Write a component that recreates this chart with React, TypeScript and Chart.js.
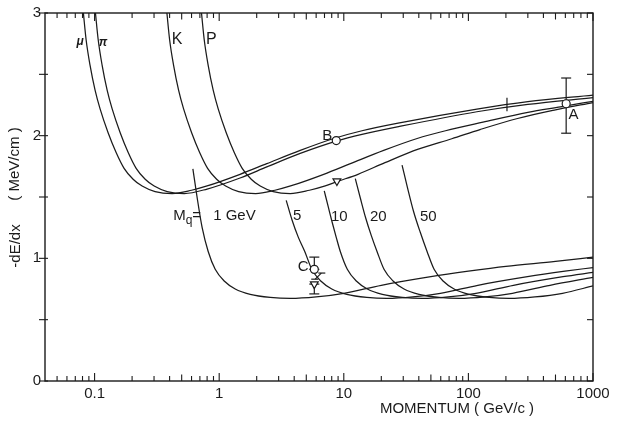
import React, { useEffect, useRef } from "react";
import { Chart, registerables } from "chart.js";

Chart.register(...registerables);

// ---- curves: momentum (GeV/c) vs -dE/dx (MeV/cm) ----
const muonMomentum = [0.0813, 0.0855, 0.092, 0.1009, 0.1107, 0.1284, 0.1489, 0.1725, 0.2038, 0.2407, 0.306, 0.419, 0.6, 0.8, 1.47, 2.41, 4.47, 8.3, 14, 28, 117, 300, 1000];
const muonDedx = [3.0, 2.782, 2.573, 2.371, 2.218, 2.024, 1.863, 1.734, 1.645, 1.589, 1.544, 1.528, 1.555, 1.59, 1.685, 1.772, 1.88, 1.977, 2.04, 2.104, 2.216, 2.277, 2.33];

const pionMomentum = [0.1016, 0.1069, 0.115, 0.1261, 0.1384, 0.1605, 0.1861, 0.2156, 0.2548, 0.3009, 0.3825, 0.524, 0.8, 1.47, 2.41, 4.47, 8.7, 14, 28, 117, 300, 1000];
const pionDedx = [3.0, 2.782, 2.573, 2.371, 2.218, 2.024, 1.863, 1.734, 1.645, 1.589, 1.544, 1.528, 1.565, 1.655, 1.745, 1.855, 1.955, 2.01, 2.075, 2.195, 2.255, 2.31];

const kaonMomentum = [0.3805, 0.4001, 0.4306, 0.4722, 0.5181, 0.6009, 0.6969, 0.8073, 0.9538, 1.1265, 1.432, 1.961, 2.8, 3.74, 6.9, 11.3, 20.9, 38.8, 65.5, 131, 300, 548, 1000];
const kaonDedx = [3.0, 2.782, 2.573, 2.371, 2.218, 2.024, 1.863, 1.734, 1.645, 1.589, 1.544, 1.528, 1.555, 1.59, 1.685, 1.772, 1.88, 1.977, 2.04, 2.11, 2.19, 2.235, 2.28];

const protonMomentum = [0.7211, 0.7584, 0.816, 0.895, 0.9819, 1.139, 1.321, 1.53, 1.808, 2.135, 2.714, 3.717, 5.3, 7.1, 8.8, 13, 21.4, 39.6, 73.6, 124, 248, 500, 1000];
const protonDedx = [3.0, 2.782, 2.573, 2.371, 2.218, 2.024, 1.863, 1.734, 1.645, 1.589, 1.544, 1.528, 1.555, 1.59, 1.625, 1.685, 1.78, 1.89, 1.975, 2.05, 2.14, 2.21, 2.27];

const quark1Momentum = [0.615, 0.666, 0.73, 0.816, 0.929, 1.097, 1.345, 1.774, 2.568, 3.72, 6, 10, 20, 50, 100, 200, 500, 1000];
const quark1Dedx = [1.73, 1.492, 1.25, 1.056, 0.911, 0.815, 0.75, 0.706, 0.681, 0.673, 0.685, 0.715, 0.78, 0.85, 0.895, 0.935, 0.975, 1.01];

const quark5Momentum = [3.45, 3.837, 4.311, 4.861, 5.533, 6.537, 8.012, 10.57, 15.3, 22.15, 35.8, 59.6, 119, 298, 596, 1000];
const quark5Dedx = [1.473, 1.315, 1.173, 1.056, 0.911, 0.815, 0.75, 0.706, 0.681, 0.673, 0.685, 0.715, 0.78, 0.85, 0.895, 0.925];

const quark10Momentum = [6.97, 7.508, 8.086, 8.707, 9.374, 10.67, 12.6, 15.45, 20.38, 29.51, 42.72, 69, 115, 230, 575, 1000];
const quark10Dedx = [1.55, 1.419, 1.29, 1.169, 1.056, 0.911, 0.815, 0.75, 0.706, 0.681, 0.673, 0.685, 0.715, 0.78, 0.85, 0.885];

const quark20Momentum = [12.37, 13.57, 14.97, 16.63, 18.48, 21.03, 24.85, 30.44, 40.18, 58.17, 84.21, 135.6, 226, 452, 1000];
const quark20Dedx = [1.65, 1.492, 1.331, 1.185, 1.056, 0.911, 0.815, 0.75, 0.706, 0.681, 0.673, 0.685, 0.715, 0.78, 0.845];

const quark50Momentum = [29.35, 32.36, 36.36, 41.16, 46.6, 53.04, 62.64, 76.78, 101.3, 146.7, 212.3, 342, 570, 1000];
const quark50Dedx = [1.76, 1.581, 1.38, 1.21, 1.056, 0.911, 0.815, 0.75, 0.706, 0.681, 0.673, 0.685, 0.715, 0.775];

// ---- measured points ----
const circleMomentum = [609, 8.7, 5.8]; // A, B, C
const circleDedx = [2.26, 1.96, 0.91];
const triangleMomentum = [8.8, 5.8];
const triangleDedx = [1.63, 0.79];

const errorBarMomentum = [609, 5.8, 5.8];
const errorBarLow = [2.02, 0.91, 0.71];
const errorBarHigh = [2.47, 1.01, 0.79];

const plainBarMomentum = [204];
const plainBarLow = [2.2];
const plainBarHigh = [2.31];

const slantBarStart = [5.9, 0.83];
const slantBarEnd = [6.6, 0.88];

// ---- ticks ----
const xTickLabels = [0.1, 1, 10, 100, 1000];
const xMidTicks = [0.5, 5, 50, 500];
const xMinorTicks = [0.05, 0.06, 0.07, 0.08, 0.09, 0.2, 0.3, 0.4, 0.6, 0.7, 0.8, 0.9, 2, 3, 4, 6, 7, 8, 9, 20, 30, 40, 60, 70, 80, 90, 200, 300, 400, 600, 700, 800, 900];
const yTickLabels = [0, 1, 2, 3];
const yMinorTicks = [0.5, 1.5, 2.5];

// ---- text labels (momentum, dE/dx) ----
const curveLabels = ["μ", "π", "K", "P"];
const curveLabelMomentum = [0.0764, 0.117, 0.46, 0.863];
const curveLabelDedx = [2.766, 2.758, 2.782, 2.782];

const massLabels = ["5", "10", "20", "50"];
const massLabelMomentum = [4.23, 9.2, 18.9, 47.7];
const massLabelDedx = [1.35, 1.34, 1.34, 1.34];

const pointLabels = ["A", "B", "C"];
const pointLabelMomentum = [697, 7.37, 4.73];
const pointLabelDedx = [2.17, 2.0, 0.927];

const INK = "#1b1b1b";
const FONT = "'Liberation Sans', Arial, sans-serif";

const toXY = (ps: number[], ys: number[]) => ps.map((p, i) => ({ x: p, y: ys[i] }));

export default function App() {
  const ref = useRef<HTMLCanvasElement>(null);

  useEffect(() => {
    const canvas = ref.current;
    if (!canvas) return;

    const curve = (label: string, ps: number[], ys: number[]) => ({
      label,
      data: toXY(ps, ys),
      showLine: true,
      borderColor: INK,
      borderWidth: 1.25,
      pointRadius: 0,
      pointHoverRadius: 0,
      cubicInterpolationMode: "monotone" as const,
      fill: false,
    });

    const drawPlugin = {
      id: "decor",
      beforeDatasetsDraw(chart: any) {
        const { ctx, scales } = chart;
        const x = scales.x;
        const y = scales.y;
        ctx.save();
        ctx.strokeStyle = INK;
        ctx.lineWidth = 1.2;
        const seg = (x1: number, y1: number, x2: number, y2: number) => {
          ctx.beginPath();
          ctx.moveTo(x1, y1);
          ctx.lineTo(x2, y2);
          ctx.stroke();
        };
        errorBarMomentum.forEach((p, i) => {
          const px = x.getPixelForValue(p);
          const lo = y.getPixelForValue(errorBarLow[i]);
          const hi = y.getPixelForValue(errorBarHigh[i]);
          seg(px, lo, px, hi);
          seg(px - 5, lo, px + 5, lo);
          seg(px - 5, hi, px + 5, hi);
        });
        plainBarMomentum.forEach((p, i) => {
          const px = x.getPixelForValue(p);
          seg(px, y.getPixelForValue(plainBarLow[i]), px, y.getPixelForValue(plainBarHigh[i]));
        });
        const sx = x.getPixelForValue(slantBarStart[0]);
        const sy = y.getPixelForValue(slantBarStart[1]);
        const ex = x.getPixelForValue(slantBarEnd[0]);
        const ey = y.getPixelForValue(slantBarEnd[1]);
        seg(sx, sy, ex, ey);
        seg(sx - 4, sy, sx + 3, sy);
        seg(ex - 3, ey, ex + 4, ey);
        ctx.restore();
      },
      afterDraw(chart: any) {
        const { ctx, chartArea, scales } = chart;
        const { left, right, top, bottom } = chartArea;
        const x = scales.x;
        const y = scales.y;
        ctx.save();
        ctx.strokeStyle = INK;
        ctx.lineWidth = 1.4;
        ctx.strokeRect(left, top, right - left, bottom - top);
        ctx.lineWidth = 1.1;
        const seg = (x1: number, y1: number, x2: number, y2: number) => {
          ctx.beginPath();
          ctx.moveTo(x1, y1);
          ctx.lineTo(x2, y2);
          ctx.stroke();
        };
        const xt = (vals: number[], len: number) =>
          vals.forEach((v) => {
            const px = x.getPixelForValue(v);
            seg(px, bottom, px, bottom - len);
            seg(px, top, px, top + len);
          });
        xt(xTickLabels, 8);
        xt(xMidTicks, 6.5);
        xt(xMinorTicks, 5);
        [...yTickLabels, ...yMinorTicks].forEach((v) => {
          const py = y.getPixelForValue(v);
          seg(left - 6, py, left + 3, py);
          seg(right, py, right - 6, py);
        });

        ctx.fillStyle = INK;
        ctx.textAlign = "center";
        ctx.textBaseline = "middle";

        curveLabels.forEach((t, i) => {
          const greek = i < 2;
          ctx.font = greek ? `italic bold 12px ${FONT}` : `16px ${FONT}`;
          ctx.fillText(t, x.getPixelForValue(curveLabelMomentum[i]), y.getPixelForValue(curveLabelDedx[i]));
        });
        ctx.font = `15px ${FONT}`;
        massLabels.forEach((t, i) => {
          ctx.fillText(t, x.getPixelForValue(massLabelMomentum[i]), y.getPixelForValue(massLabelDedx[i]));
        });
        pointLabels.forEach((t, i) => {
          ctx.fillText(t, x.getPixelForValue(pointLabelMomentum[i]), y.getPixelForValue(pointLabelDedx[i]));
        });

        // M_q = 1 GeV
        const my = y.getPixelForValue(1.345);
        let mx = x.getPixelForValue(0.427);
        ctx.textAlign = "left";
        ctx.font = `15px ${FONT}`;
        ctx.fillText("M", mx, my);
        mx += ctx.measureText("M").width;
        ctx.font = `12px ${FONT}`;
        ctx.fillText("q", mx, my + 5);
        mx += ctx.measureText("q").width;
        ctx.font = `15px ${FONT}`;
        ctx.fillText("=", mx, my);
        ctx.fillText("1 GeV", x.getPixelForValue(0.895), my);

        // axis titles
        ctx.textAlign = "center";
        ctx.font = `15px ${FONT}`;
        ctx.fillText("MOMENTUM ( GeV/c )", 457, 409);
        ctx.save();
        ctx.translate(16, 246);
        ctx.rotate(-Math.PI / 2);
        ctx.fillText("-dE/dx", 0, 0);
        ctx.restore();
        ctx.save();
        ctx.translate(15, 164);
        ctx.rotate(-Math.PI / 2);
        ctx.fillText("( MeV/cm )", 0, 0);
        ctx.restore();
        ctx.restore();
      },
    };

    const chart = new Chart(canvas, {
      type: "scatter",
      data: {
        datasets: [
          {
            label: "points",
            data: toXY(circleMomentum, circleDedx),
            pointStyle: "circle",
            pointRadius: 4,
            pointBackgroundColor: "#fff",
            pointBorderColor: INK,
            pointBorderWidth: 1.2,
            showLine: false,
          },
          {
            label: "triangles",
            data: toXY(triangleMomentum, triangleDedx),
            pointStyle: "triangle",
            pointRotation: 180,
            pointRadius: 4.5,
            pointBackgroundColor: "#fff",
            pointBorderColor: INK,
            pointBorderWidth: 1.2,
            showLine: false,
          },
          curve("mu", muonMomentum, muonDedx),
          curve("pi", pionMomentum, pionDedx),
          curve("K", kaonMomentum, kaonDedx),
          curve("P", protonMomentum, protonDedx),
          curve("Mq=1", quark1Momentum, quark1Dedx),
          curve("Mq=5", quark5Momentum, quark5Dedx),
          curve("Mq=10", quark10Momentum, quark10Dedx),
          curve("Mq=20", quark20Momentum, quark20Dedx),
          curve("Mq=50", quark50Momentum, quark50Dedx),
        ] as any,
      },
      options: {
        responsive: false,
        animation: false,
        devicePixelRatio: 1,
        events: [],
        layout: { padding: { left: 0, right: 29, top: 9, bottom: 0 } },
        plugins: { legend: { display: false }, tooltip: { enabled: false }, title: { display: false } },
        scales: {
          x: {
            type: "logarithmic",
            min: 0.04,
            max: 1000,
            afterBuildTicks: (s: any) => {
              s.ticks = xTickLabels.map((v) => ({ value: v }));
            },
            afterFit: (s: any) => {
              s.height = 40;
            },
            ticks: {
              autoSkip: false,
              maxRotation: 0,
              padding: 4,
              color: INK,
              font: { family: FONT, size: 15 },
              callback: (v: any) => String(v),
            },
            grid: { display: false, drawTicks: false },
            border: { display: false },
          },
          y: {
            type: "linear",
            min: 0,
            max: 3,
            afterBuildTicks: (s: any) => {
              s.ticks = yTickLabels.map((v) => ({ value: v }));
            },
            afterFit: (s: any) => {
              s.width = 45;
            },
            ticks: {
              padding: 4,
              color: INK,
              font: { family: FONT, size: 15 },
              callback: (v: any) => String(v),
            },
            grid: { display: false, drawTicks: false },
            border: { display: false },
          },
        },
      } as any,
      plugins: [drawPlugin],
    });

    return () => chart.destroy();
  }, []);

  return (
    <div style={{ position: "absolute", left: 0, top: 0, width: 622, height: 421, background: "#fff" }}>
      <canvas ref={ref} width={622} height={421} style={{ display: "block", width: 622, height: 421 }} />
    </div>
  );
}
